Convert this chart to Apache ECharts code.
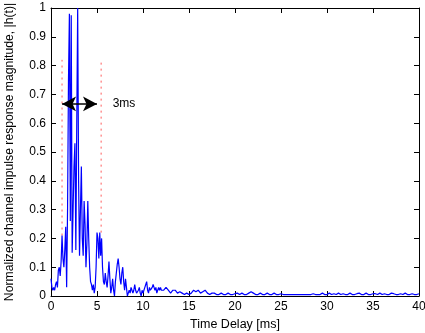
<!DOCTYPE html>
<html><head><meta charset="utf-8">
<script src="https://cdn.jsdelivr.net/npm/echarts@6/dist/echarts.min.js"></script>
<style>html,body{margin:0;padding:0;background:#fff}#c{width:425px;height:333px}</style>
</head><body><div id="c"></div>
<script>
// Early part: samples every 0.1 ms from 0 to 12 ms
var earlyStart = 0, earlyStep = 0.1;
var earlyMag = [
0.06,0.03,0.02,0.03,0.02,0.04,0.05,0.03,0.09,0.10,
0.07,0.12,0.21,0.13,0.10,0.16,0.24,0.03,0.30,0.75,
0.98,0.26,0.975,0.15,0.30,0.45,0.53,0.16,0.60,1.00,
0.40,0.14,0.30,0.45,0.20,0.14,0.33,0.25,0.10,0.18,
0.33,0.20,0.10,0.05,0.04,0.02,0.04,0.01,0.03,0.10,
0.22,0.20,0.13,0.22,0.14,0.20,0.10,0.05,0.04,0.08,
0.05,0.03,0.07,0.12,0.06,0.01,0.03,0.06,0.02,0.00,
0.05,0.08,0.11,0.13,0.10,0.06,0.04,0.08,0.10,0.05,
0.02,0.06,0.03,0.00,0.01,0.02,0.01,0.03,0.02,0.01,
0.02,0.04,0.02,0.01,0.01,0.02,0.03,0.01,0.00,0.02,
0.01,0.02,0.03,0.04,0.05,0.02,0.01,0.03,0.02,0.02,
0.03,0.04,0.03,0.02,0.03,0.01,0.02,0.03,0.02,0.03,
0.02];
// Tail: samples every 0.25 ms from 12.25 to 40 ms
var tailStart = 12.25, tailStep = 0.25;
var tailMag = [
0.02,0.03,0.02,0.01,0.02,0.02,0.01,0.015,0.01,0.005,0.01,0.005,
0.01,0.02,0.015,0.02,0.01,0.015,0.02,0.01,0.005,0.01,0.01,0.005,0.005,0.01,0.005,0.005,0.01,0.005,0.005,0.008,
0.01,0.005,0.01,0.005,0.005,0.01,0.015,0.01,0.005,0.005,0.01,0.005,0.005,0.01,0.005,0.005,0.01,0.005,0.005,0.008,
0.005,0.005,0.005,0.005,0.005,0.005,0.005,0.005,0.005,0.005,0.005,0.005,0.005,0.008,0.005,0.005,0.005,0.01,0.005,0.005,
0.01,0.005,0.008,0.005,0.01,0.005,0.008,0.005,0.005,0.01,0.005,0.005,0.008,0.01,0.005,0.005,0.01,0.005,0.005,0.008,
0.008,0.005,0.01,0.005,0.008,0.005,0.005,0.01,0.008,0.005,0.005,0.008,0.005,0.01,0.005,0.005,0.008,0.005,0.005,0.008];
var xTicks = [0,5,10,15,20,25,30,35,40];
var yTicks = [0,0.1,0.2,0.3,0.4,0.5,0.6,0.7,0.8,0.9,1];
// Annotation values (ms / magnitude)
var markerLeft = 1.2, markerRight = 5.45;
var markerLeftBottom = 0.21, markerRightBottom = 0.22, markerTop = 0.82;
var arrowFrom = 1.2, arrowTo = 5.0, arrowLevel = 0.667;
var annotText = '3ms', annotX = 6.7;

var data = [];
earlyMag.forEach(function(v,i){ data.push([+(earlyStart+i*earlyStep).toFixed(2), v]); });
tailMag.forEach(function(v,i){ data.push([+(tailStart+i*tailStep).toFixed(2), v]); });

var font = 'Liberation Sans, Arial, Helvetica, sans-serif';
var chart = echarts.init(document.getElementById('c'), null, {renderer:'canvas'});
var axisCommon = {
  type:'value', axisLine:{show:true,onZero:false,lineStyle:{color:'#000',width:1}},
  axisTick:{show:true,inside:true,length:5,lineStyle:{color:'#000'}},
  splitLine:{show:false}
};
chart.setOption({
  animation:false,
  grid:{left:51,right:6,top:8,bottom:37,containLabel:false,outerBoundsMode:'none'},
  xAxis:[
    Object.assign({}, axisCommon, {min:0,max:40,interval:5,position:'bottom',
      name:'Time Delay [ms]',nameLocation:'middle',nameGap:20,
      nameTextStyle:{color:'#000',fontSize:12.5,fontFamily:font},
      axisLabel:{color:'#000',fontSize:12,fontFamily:font,margin:5}}),
    Object.assign({}, axisCommon, {min:0,max:40,interval:5,position:'top',axisLabel:{show:false}})
  ],
  yAxis:[
    Object.assign({}, axisCommon, {min:0,max:1,interval:0.1,position:'left',
      name:'Normalized channel impulse response magnitude, |h(t)|',nameLocation:'middle',nameGap:35,
      nameTextStyle:{color:'#000',fontSize:12.2,fontFamily:font},
      axisLabel:{color:'#000',fontSize:12,fontFamily:font,margin:5}}),
    Object.assign({}, axisCommon, {min:0,max:1,interval:0.1,position:'right',axisLabel:{show:false}})
  ],
  series:[
    {type:'line',data:data,showSymbol:false,symbol:'none',clip:true,
     lineStyle:{color:'#0000ff',width:1.2},z:3},
    {type:'line',data:[[markerLeft,markerLeftBottom],[markerLeft,markerTop]],symbol:'none',
     lineStyle:{color:'#ff5a5a',width:1,type:[2,4]},z:2},
    {type:'line',data:[[markerRight,markerRightBottom],[markerRight,markerTop]],symbol:'none',
     lineStyle:{color:'#ff5a5a',width:1,type:[2,4]},z:2},
    {type:'line',data:[],z:5,
     markLine:{silent:true,symbol:['arrow','arrow'],symbolSize:[11,14],
       lineStyle:{color:'#000',width:1.5,type:'solid'},label:{show:false},
       data:[[{coord:[arrowFrom,arrowLevel]},{coord:[arrowTo,arrowLevel]}]]},
     markPoint:{symbol:'circle',symbolSize:0,
       label:{show:true,formatter:annotText,position:'right',distance:0,color:'#000',fontSize:12,fontFamily:font},
       data:[{coord:[annotX,arrowLevel]}]}}
  ]
});
</script></body></html>
